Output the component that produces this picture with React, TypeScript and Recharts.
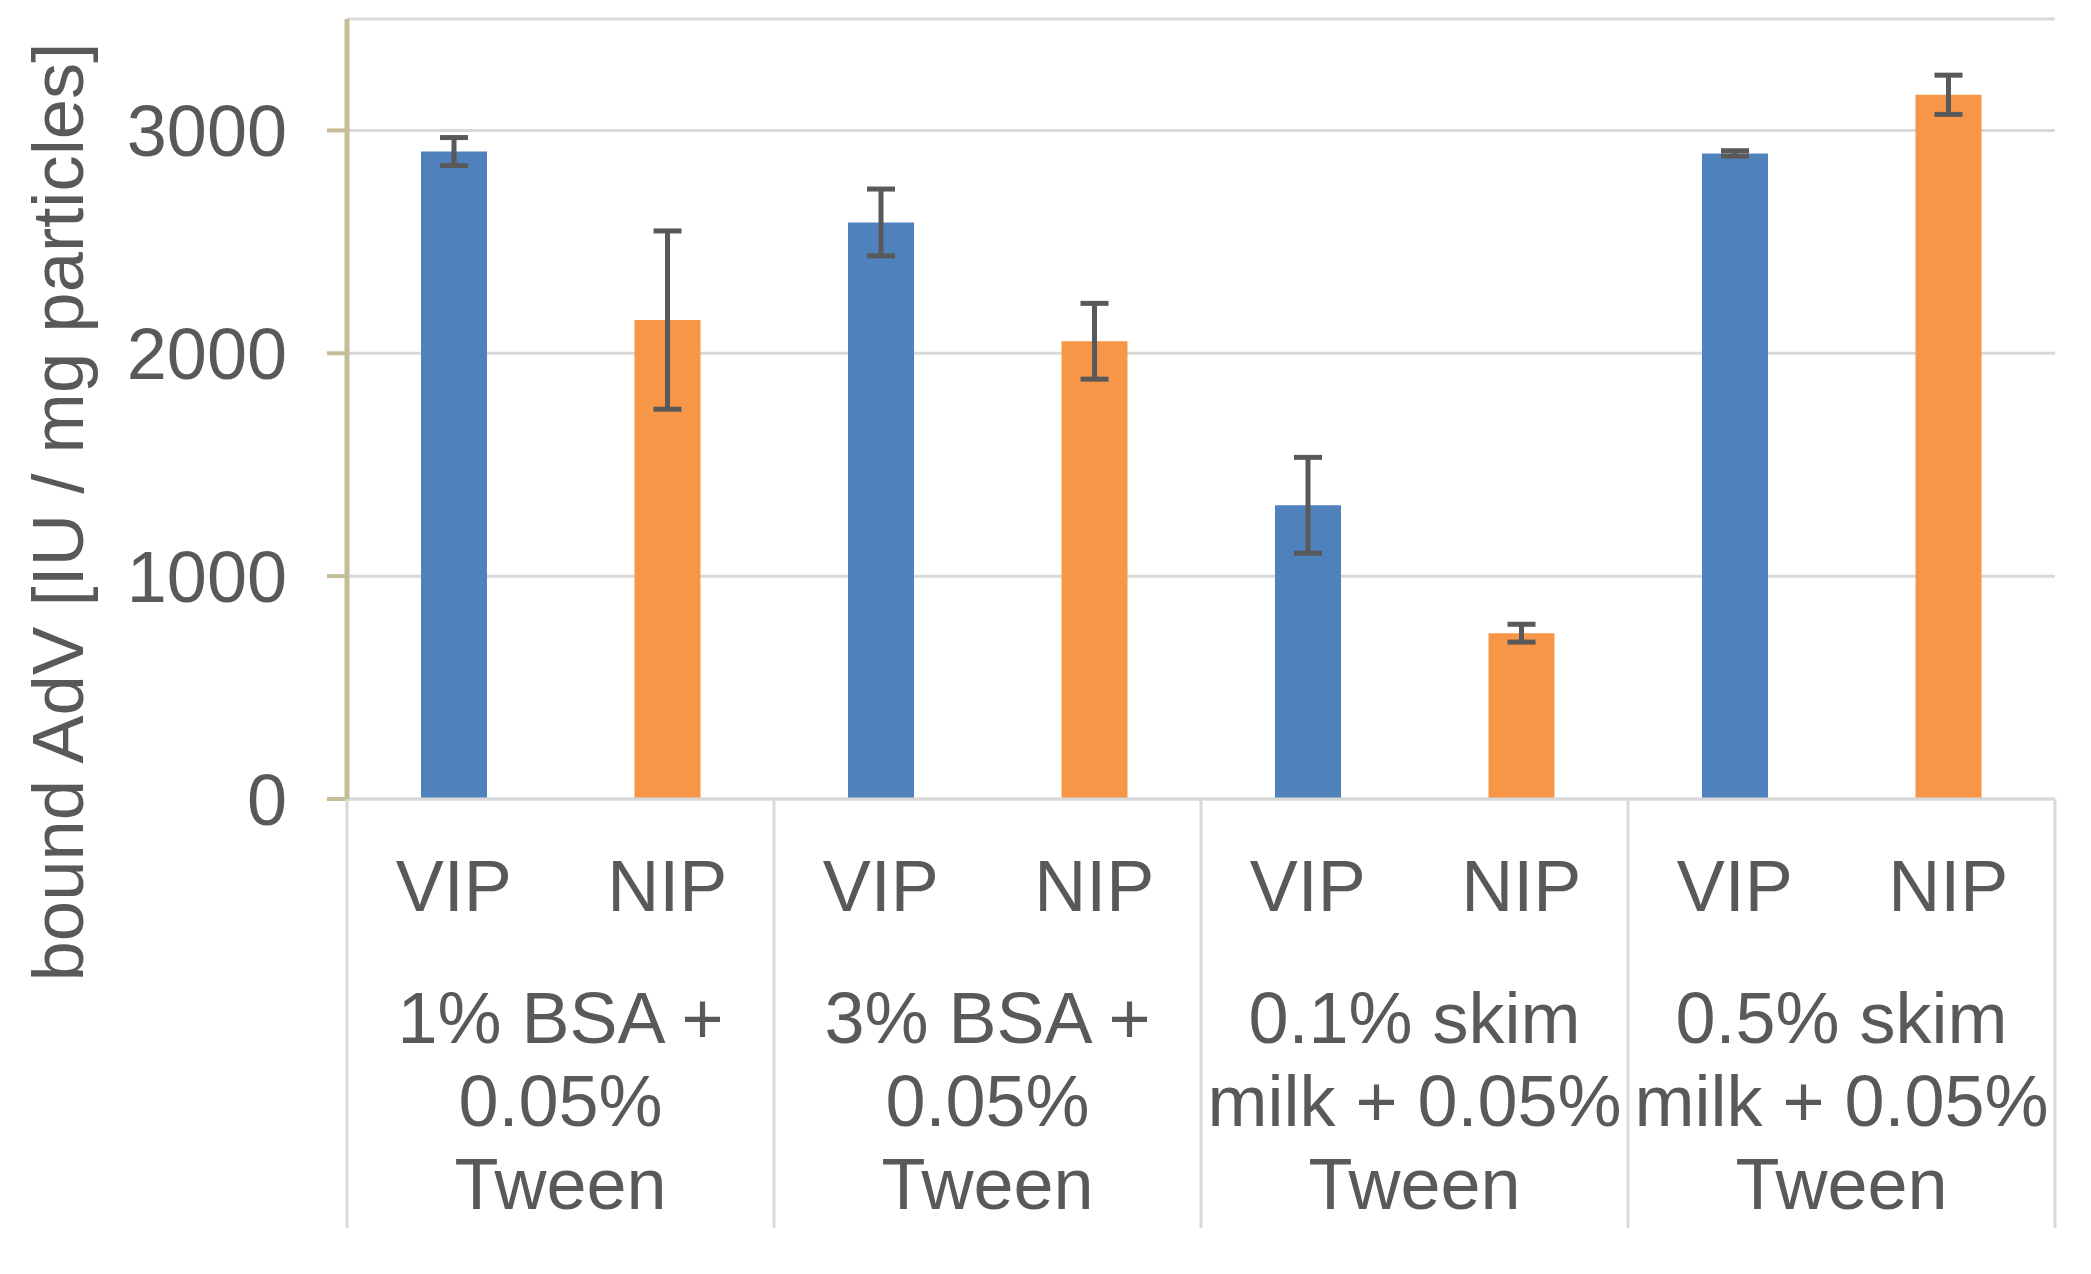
import { BarChart, Bar, Cell, XAxis, YAxis, CartesianGrid, ErrorBar } from "recharts";

const LABELS = ["VIP", "NIP", "VIP", "NIP", "VIP", "NIP", "VIP", "NIP"];
const GROUPS = [
  "1% BSA +\n0.05%\nTween",
  "3% BSA +\n0.05%\nTween",
  "0.1% skim\nmilk + 0.05%\nTween",
  "0.5% skim\nmilk + 0.05%\nTween",
];
const VALUES = [2905, 2149, 2587, 2054, 1318, 744, 2897, 3160];
const ERRORS = [63, 400, 150, 170, 215, 40, 12, 88];
const Y_TICKS = [0, 1000, 2000, 3000];

const BLUE = "#4F81BD";
const ORANGE = "#F79646";
const INK = "#595959";
const GRID = "#d9d9d9";
const TAN = "#c4bd97";
const FONT = "'Liberation Sans', Arial, sans-serif";

const W = 2091;
const H = 1274;
const MARGIN = { top: 19, right: 36, left: 0, bottom: 0 };
const Y_AXIS_W = 347;
const AXIS1_H = 160;
const AXIS2_H = 315;
const AXIS_Y = H - AXIS1_H - AXIS2_H; // 799
const BAND = (W - MARGIN.right - Y_AXIS_W) / LABELS.length;
const SEP_BOTTOM = 1228;

const data = LABELS.map((label, i) => ({
  label,
  group: GROUPS[Math.floor(i / 2)],
  value: VALUES[i],
  err: ERRORS[i],
}));

function GroupTick(props: any) {
  const { x, index, payload } = props;
  const i = index ?? payload?.index ?? 0;
  if (i % 2 !== 0) return null;
  const left = x - BAND / 2;
  const cx = x + BAND / 2;
  const lines = String(payload.value).split("\n");
  const isLast = i === LABELS.length - 2;
  return (
    <g>
      <line x1={left} x2={left} y1={AXIS_Y} y2={SEP_BOTTOM} stroke={GRID} strokeWidth={3} />
      {isLast && (
        <line
          x1={left + 2 * BAND}
          x2={left + 2 * BAND}
          y1={AXIS_Y}
          y2={SEP_BOTTOM}
          stroke={GRID}
          strokeWidth={3}
        />
      )}
      <text textAnchor="middle" fill={INK} fontSize={72} fontFamily={FONT}>
        {lines.map((l, k) => (
          <tspan key={k} x={cx} y={1043 + k * 83}>
            {l}
          </tspan>
        ))}
      </text>
    </g>
  );
}

function YLabel() {
  return (
    <text
      x={83}
      y={512}
      transform="rotate(-90, 83, 512)"
      textAnchor="middle"
      fill={INK}
      fontSize={72.5}
      fontFamily={FONT}
    >
      bound AdV [IU / mg particles]
    </text>
  );
}

export default function App() {
  return (
    <div style={{ position: "absolute", left: 0, top: 0, width: W, height: H, background: "#fff" }}>
      <BarChart width={W} height={H} data={data} margin={MARGIN}>
        <CartesianGrid vertical={false} stroke={GRID} strokeWidth={3} />
        <XAxis
          dataKey="label"
          height={AXIS1_H}
          axisLine={{ stroke: GRID, strokeWidth: 3 }}
          tickLine={false}
          tickSize={0}
          tickMargin={61}
          tick={{ fill: INK, fontSize: 72, fontFamily: FONT }}
          interval={0}
        />
        <XAxis
          xAxisId="group"
          dataKey="group"
          height={AXIS2_H}
          axisLine={false}
          tickLine={false}
          interval={0}
          tick={<GroupTick />}
        />
        <YAxis
          width={Y_AXIS_W}
          domain={[0, 3500]}
          ticks={Y_TICKS}
          axisLine={{ stroke: TAN, strokeWidth: 5 }}
          tickLine={{ stroke: TAN, strokeWidth: 4 }}
          tickSize={20}
          tickMargin={40}
          tick={{ fill: INK, fontSize: 72, fontFamily: FONT }}
          label={{ content: () => <YLabel /> }}
        />
        <Bar dataKey="value" barSize={66} isAnimationActive={false}>
          {data.map((d, i) => (
            <Cell key={i} fill={d.label === "VIP" ? BLUE : ORANGE} />
          ))}
          <ErrorBar dataKey="err" width={14} strokeWidth={5} stroke={INK} isAnimationActive={false} />
        </Bar>
      </BarChart>
    </div>
  );
}
